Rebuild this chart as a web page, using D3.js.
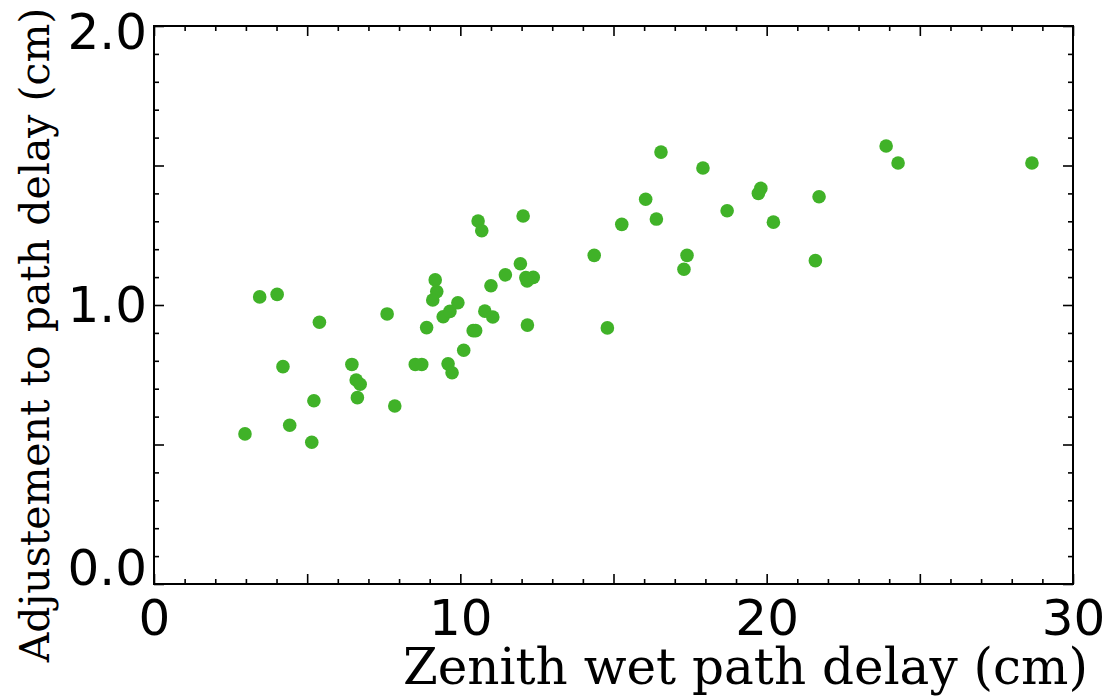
<!DOCTYPE html>
<html>
<head>
<meta charset="utf-8">
<script src="https://cdn.jsdelivr.net/npm/d3@7"></script>
<style>
  body { margin: 0; background: #fff; }
  svg { display: block; }
</style>
</head>
<body>
<div id="chart"></div>
<script>
// zenith wet delay (cm)
const wetDelay = [
  2.97, 3.45, 4.02, 4.21, 4.43, 5.15, 5.22, 5.40, 6.46, 6.60,
  6.73, 6.64, 7.61, 7.86, 8.53, 8.74, 8.90, 9.18, 9.23, 9.10,
  9.44, 9.66, 9.92, 9.60, 9.73, 10.11, 10.42, 10.50, 10.80, 11.06,
  11.00, 11.47, 12.14, 12.38, 12.19, 11.96, 10.58, 10.70, 12.05, 14.37,
  14.80, 15.27, 16.05, 16.40, 17.40, 17.30, 18.71, 19.73, 19.81, 20.22,
  21.71, 21.59, 16.55, 17.92, 23.90, 24.29, 28.66, 12.18
];
// adjustment to path delay (cm)
const adjustment = [
  0.538, 1.029, 1.038, 0.779, 0.569, 0.508, 0.657, 0.938, 0.787, 0.731,
  0.716, 0.668, 0.968, 0.638, 0.787, 0.787, 0.919, 1.090, 1.048, 1.018,
  0.958, 0.977, 1.008, 0.789, 0.757, 0.838, 0.908, 0.908, 0.978, 0.957,
  1.069, 1.108, 1.098, 1.099, 0.928, 1.148, 1.301, 1.266, 1.319, 1.178,
  0.918, 1.289, 1.379, 1.308, 1.178, 1.128, 1.338, 1.400, 1.418, 1.297,
  1.388, 1.159, 1.548, 1.491, 1.570, 1.509, 1.509, 1.086
];

const xTickLabels = [0, 10, 20, 30];
const yTickLabels = [0.0, 1.0, 2.0];
const xMajorTicks = [0, 5, 10, 15, 20, 25, 30];
const yMajorTicks = [0, 0.5, 1.0, 1.5, 2.0];

const width = 1105;
const height = 697;
const margin = {top: 26, right: 32, bottom: 113, left: 154};

const svg = d3.select('#chart')
    .append('svg')
    .attr('width', width)
    .attr('height', height);

const plotW = width - margin.left - margin.right;
const plotH = height - margin.top - margin.bottom;

const x = d3.scaleLinear().domain([0, 30]).range([0, plotW]);
const y = d3.scaleLinear().domain([0, 2]).range([plotH, 0]);

const g = svg.append('g')
    .attr('transform', 'translate(' + margin.left + ',' + margin.top + ')');

// points first, frame on top
g.append('g')
    .selectAll('circle')
    .data(wetDelay.map((v, i) => [v, adjustment[i]]))
    .join('circle')
    .attr('cx', d => x(d[0]))
    .attr('cy', d => y(d[1]))
    .attr('r', 6.8)
    .attr('fill', '#40b228');

const xMinor = d3.range(0, 31, 1).filter(v => v % 5 !== 0);
const yMinor = d3.range(0, 21, 1).map(v => v / 10).filter((v, i) => i % 5 !== 0);

function tickAxis(axisFn, scale, values, size, transform) {
  const a = g.append('g')
      .attr('transform', transform)
      .call(axisFn(scale).tickValues(values).tickSize(-size).tickFormat(''));
  a.select('.domain').remove();
  a.selectAll('line').attr('stroke', '#000').attr('stroke-width', 1.6);
  return a;
}

tickAxis(d3.axisBottom, x, xMajorTicks, 10, 'translate(0,' + plotH + ')');
tickAxis(d3.axisBottom, x, xMinor, 5, 'translate(0,' + plotH + ')');
tickAxis(d3.axisTop, x, xMajorTicks, 10, 'translate(0,0)');
tickAxis(d3.axisTop, x, xMinor, 5, 'translate(0,0)');
tickAxis(d3.axisLeft, y, yMajorTicks, 10, 'translate(0,0)');
tickAxis(d3.axisLeft, y, yMinor, 5, 'translate(0,0)');
tickAxis(d3.axisRight, y, yMajorTicks, 10, 'translate(' + plotW + ',0)');
tickAxis(d3.axisRight, y, yMinor, 5, 'translate(' + plotW + ',0)');

// frame
g.append('rect')
    .attr('width', plotW)
    .attr('height', plotH)
    .attr('fill', 'none')
    .attr('stroke', '#000')
    .attr('stroke-width', 2);

// tick labels
const xLab = g.append('g')
    .attr('transform', 'translate(0,' + plotH + ')')
    .call(d3.axisBottom(x).tickValues(xTickLabels).tickSize(0).tickPadding(15).tickFormat(d3.format('d')));
xLab.select('.domain').remove();
xLab.selectAll('text')
    .attr('font-family', '"DejaVu Sans", sans-serif')
    .attr('font-size', 50)
    .attr('fill', '#000');

const yLab = g.append('g')
    .call(d3.axisLeft(y).tickValues(yTickLabels).tickSize(0).tickPadding(7).tickFormat(d3.format('.1f')));
yLab.select('.domain').remove();
yLab.selectAll('text')
    .attr('font-family', '"DejaVu Sans", sans-serif')
    .attr('font-size', 50)
    .attr('fill', '#000')
    .attr('dy', d => d === 0 ? '0.0em' : (d === 2 ? '0.44em' : '0.32em'));

// axis titles
svg.append('text')
    .attr('x', 1088)
    .attr('y', 684)
    .attr('text-anchor', 'end')
    .attr('font-family', '"DejaVu Serif", serif')
    .attr('font-size', 50)
    .text('Zenith wet path delay (cm)');

svg.append('text')
    .attr('transform', 'translate(49,335) rotate(-90)')
    .attr('text-anchor', 'middle')
    .attr('font-family', '"DejaVu Serif", serif')
    .attr('font-size', 41)
    .text('Adjustement to path delay (cm)');
</script>
</body>
</html>
